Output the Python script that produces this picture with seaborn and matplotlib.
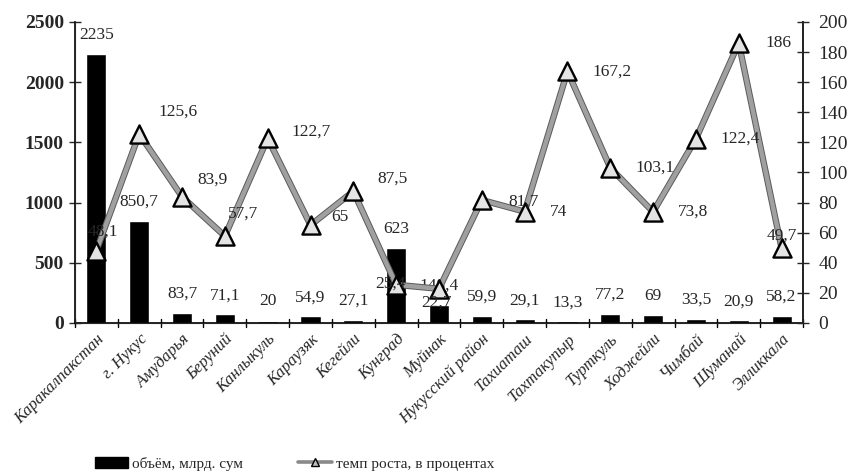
import numpy as np
import pandas as pd
import matplotlib
matplotlib.use('Agg')
import matplotlib.pyplot as plt
import matplotlib.patheffects as pe
from matplotlib.lines import Line2D
from matplotlib.patches import Patch
import seaborn as sns

# Data
districts = ['Каракалпакстан', 'г. Нукус', 'Амударья', 'Беруний', 'Канлыкуль',
             'Караузяк', 'Кегейли', 'Кунград', 'Муйнак', 'Нукусский район',
             'Тахиаташ', 'Тахтакупыр', 'Турткуль', 'Ходжейли', 'Чимбай',
             'Шуманай', 'Элликкала']
volume = [2235, 850.7, 83.7, 71.1, 20, 54.9, 27.1, 623, 148.4, 59.9,
          29.1, 13.3, 77.2, 69, 33.5, 20.9, 58.2]
growth = [48.1, 125.6, 83.9, 57.7, 122.7, 65, 87.5, 25.4, 22.7, 81.7,
          74, 167.2, 103.1, 73.8, 122.4, 186, 49.7]
left_ticks = [0, 500, 1000, 1500, 2000, 2500]
right_ticks = [0, 20, 40, 60, 80, 100, 120, 140, 160, 180, 200]

# where each growth label sits relative to its marker (points)
growth_label_offsets = [(-6, 14), (14, 16), (11, 12), (2, 16), (17, 5), (15, 6),
                        (17, 9), (-15, 1), (-13, -10), (19, -1), (18, 0), (18, 0),
                        (18, 0), (18, 0), (18, 0), (19, 0), (-11, 9)]

df = pd.DataFrame({'district': districts, 'volume': volume, 'growth': growth})
df['pos'] = np.arange(len(df))

sns.set_style('white')
plt.rcParams['font.family'] = ['Liberation Serif', 'DejaVu Serif']


def fmt(v):
    # comma as decimal separator, like the source
    return f'{v:g}'.replace('.', ',')


fig = plt.figure(figsize=(8.57, 4.74), dpi=100)
ax = fig.add_axes([0.0875, 0.3186, 0.8495, 0.635])

# volume bars
sns.barplot(data=df, x='district', y='volume', color='black', width=0.47,
            saturation=1, ax=ax, order=districts)
ax.set_ylim(0, 2500)
ax.set_xlim(-0.5, len(df) - 0.5)
ax.set_yticks(left_ticks)
ax.set_yticklabels([str(t) for t in left_ticks], fontsize=14, fontweight='bold')
ax.set_xlabel('')
ax.set_ylabel('')
ax.set_xticks(np.arange(len(df)))
ax.set_xticklabels(districts, rotation=45, ha='right', rotation_mode='anchor',
                   fontsize=12, fontstyle='italic')
ax.tick_params(axis='x', length=0, pad=6)
# boundary ticks between categories
for b in np.arange(-0.5, len(df), 1.0):
    ax.plot([b, b], [-35, 35], color='black', lw=1, clip_on=False, zorder=5)
ax.tick_params(axis='y', direction='inout', length=8, width=1, pad=4)
ax.spines['top'].set_visible(False)
for side in ['left', 'bottom', 'right']:
    ax.spines[side].set_color('black')
    ax.spines[side].set_linewidth(1.2)

for x, v in zip(df['pos'], df['volume']):
    ax.annotate(fmt(v), (x, v), xytext=(0, 8), textcoords='offset points',
                ha='center', va='bottom', fontsize=12.5)

# growth line on the right axis
ax2 = ax.twinx()
sns.lineplot(data=df, x='pos', y='growth', ax=ax2, color='#a0a0a0', lw=3.2,
             path_effects=[pe.Stroke(linewidth=4.6, foreground='#5a5a5a'), pe.Normal()])
sns.scatterplot(data=df, x='pos', y='growth', ax=ax2, marker='^', s=170,
                color='#e4e4e4', edgecolor='black', linewidth=1.7, zorder=4)
ax2.set_ylim(0, 200)
ax2.set_xlim(-0.5, len(df) - 0.5)
ax2.set_yticks(right_ticks)
ax2.set_yticklabels([str(t) for t in right_ticks], fontsize=14)
ax2.set_ylabel('')
ax2.tick_params(axis='y', direction='inout', length=8, width=1, pad=7)
ax2.spines['top'].set_visible(False)
ax2.spines['right'].set_linewidth(1.2)

for x, v, off in zip(df['pos'], df['growth'], growth_label_offsets):
    ax2.annotate(fmt(v), (x, v), xytext=off, textcoords='offset points',
                 ha='left', va='center', fontsize=12.5, zorder=6)

# legend below the chart
handles = [Patch(facecolor='black', edgecolor='black'),
           Line2D([0], [0], color='#8a8a8a', lw=2.6, marker='^', markersize=6,
                  markerfacecolor='#bbbbbb', markeredgecolor='black')]
fig.legend(handles, ['объём, млрд. сум', 'темп роста, в процентах'],
           loc='lower left', bbox_to_anchor=(0.1, -0.012), ncol=2, frameon=False,
           fontsize=11, handlelength=2.2, handletextpad=0.25, columnspacing=3.6,
           borderaxespad=0.2)

fig.savefig('out.png', dpi=100)
